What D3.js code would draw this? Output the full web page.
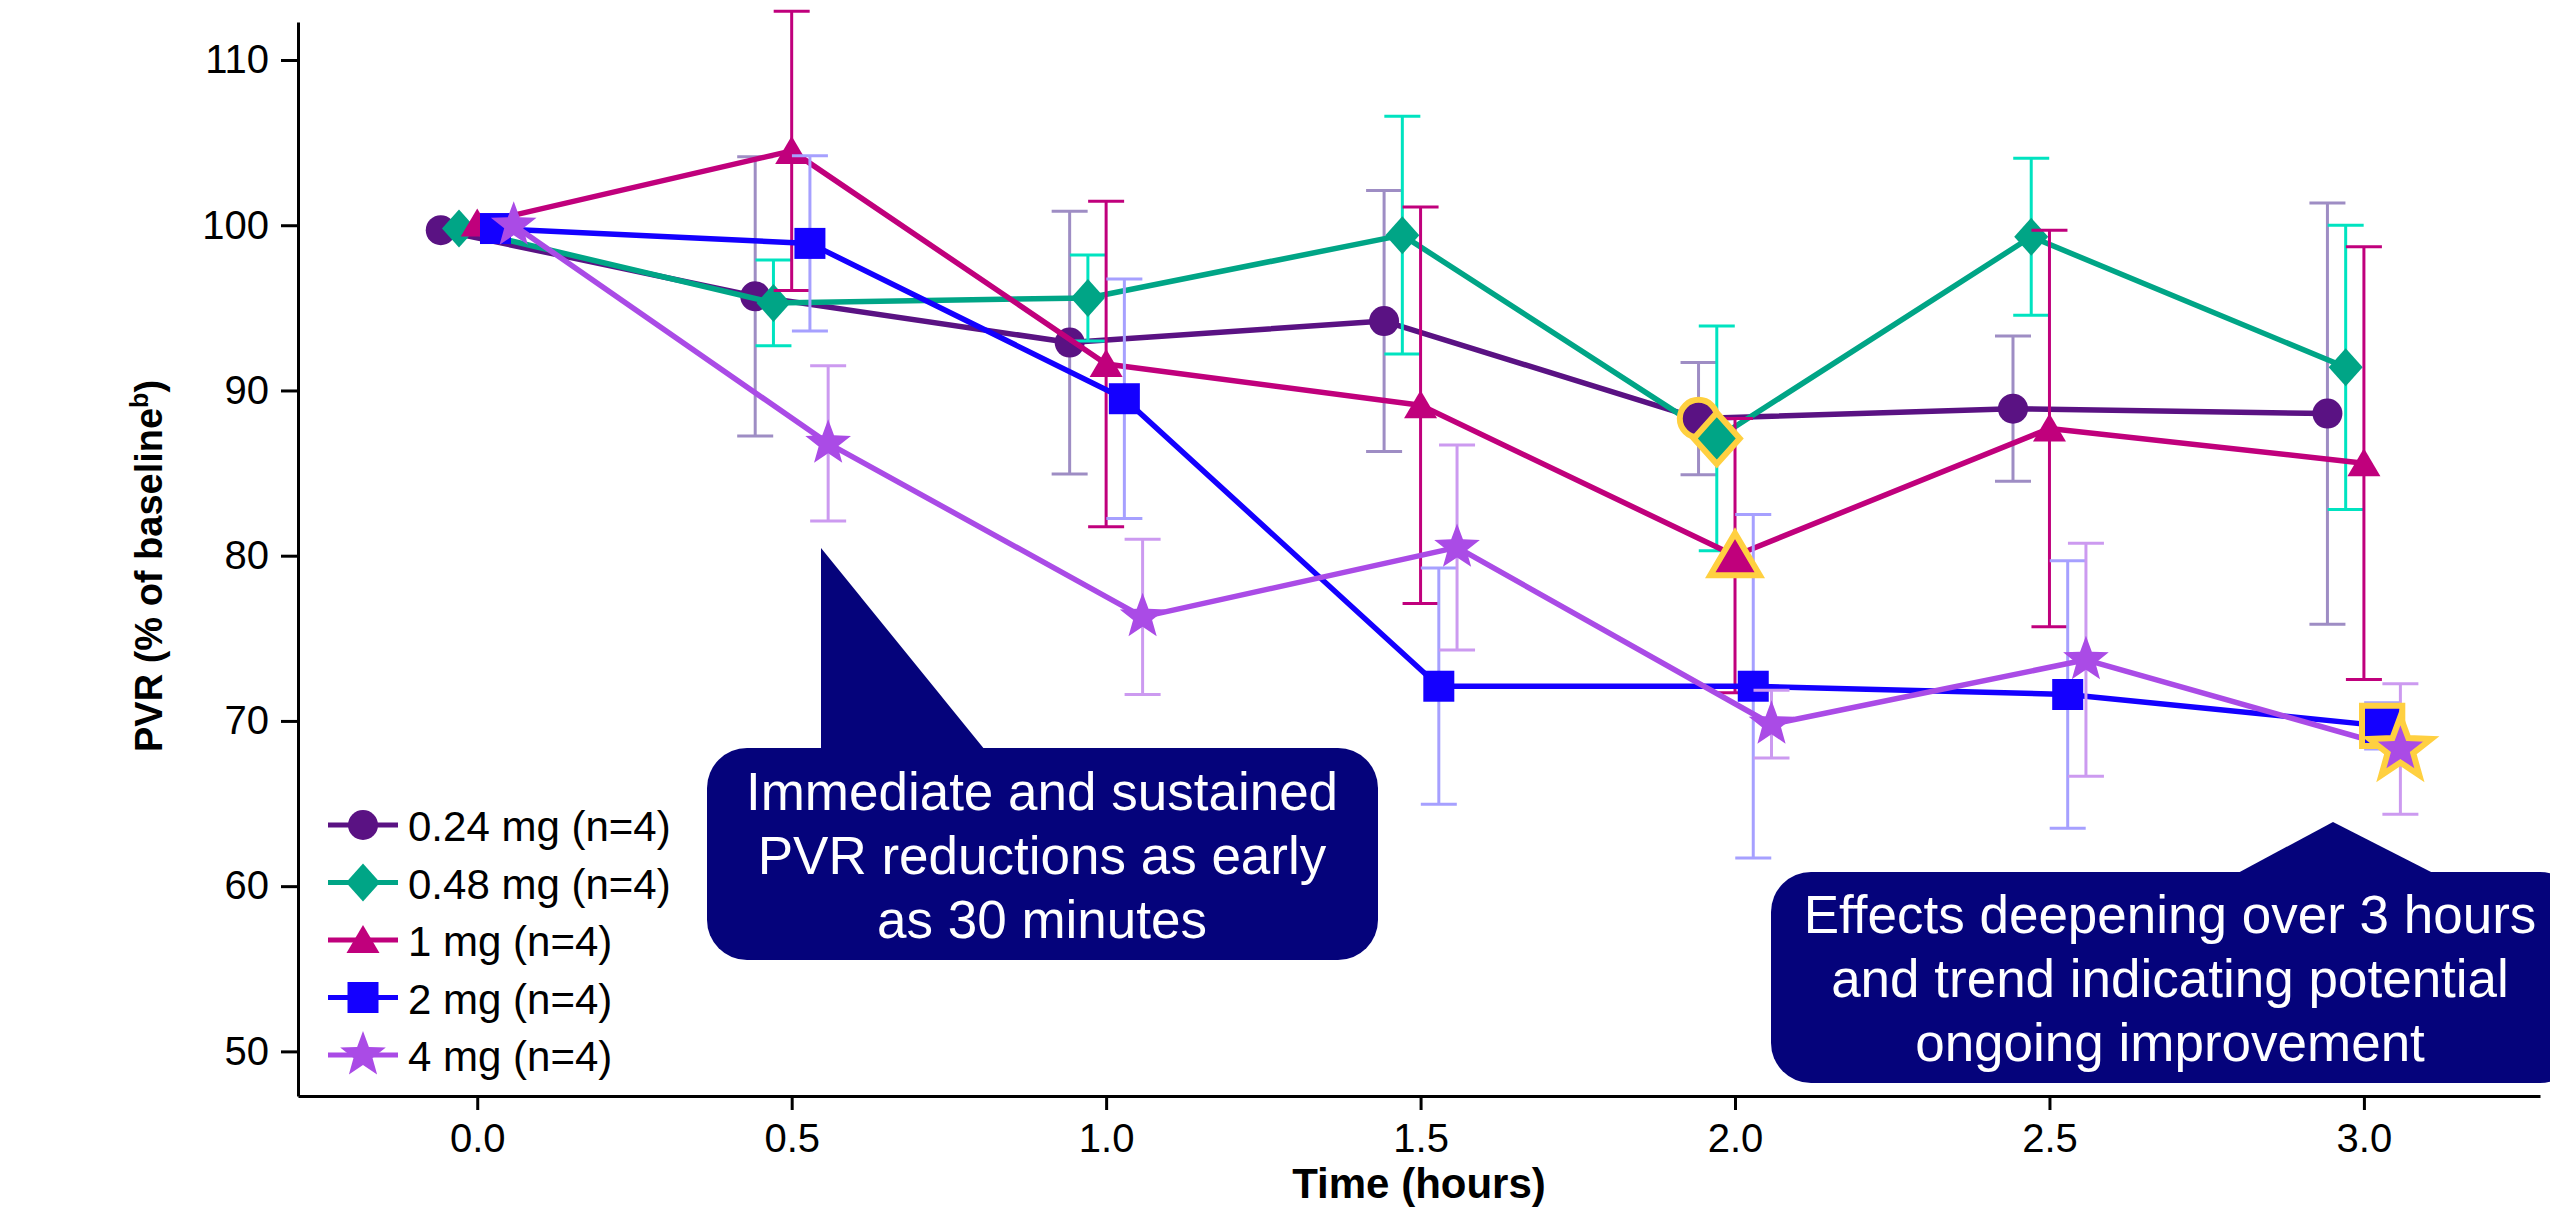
<!DOCTYPE html>
<meta charset="utf-8">
<style>
body { margin: 0; background: #fff; }
text { font-family: "Liberation Sans", Arial, sans-serif; }
.axis path, .axis line { stroke: #000; stroke-width: 3px; }
.axis text { font-size: 40px; fill: #000; }
</style>
<body>
<svg width="2550" height="1209"></svg>
<script src="https://d3js.org/d3.v7.min.js"></script>
<script>

// time points (hours) and the five dose groups
var times = [0, 0.5, 1.0, 1.5, 2.0, 2.5, 3.0];
var doseLabels = ["0.24 mg (n=4)", "0.48 mg (n=4)", "1 mg (n=4)", "2 mg (n=4)", "4 mg (n=4)"];

// PVR, % of baseline (mean) and error (+/-) per dose
var mean024 = [99.7, 95.7, 92.9, 94.2, 88.3, 88.9, 88.6];
var err024  = [0, 8.45, 7.95, 7.9, 3.4, 4.4, 12.75];
var mean048 = [99.8, 95.3, 95.6, 99.4, 87.1, 99.3, 91.4];
var err048  = [0, 2.6, 2.6, 7.2, 6.8, 4.75, 8.6];
var mean1   = [100.1, 104.5, 91.6, 89.1, 80.0, 87.7, 85.6];
var err1    = [0, 8.45, 9.85, 12.0, 8.3, 12.0, 13.1];
var mean2   = [99.8, 98.9, 89.5, 72.1, 72.1, 71.6, 69.7];
var err2    = [0, 5.3, 7.25, 7.15, 10.4, 8.1, 1.4];
var mean4   = [100.0, 86.8, 76.3, 80.5, 69.8, 73.7, 68.3];
var err4    = [0, 4.7, 4.7, 6.2, 2.05, 7.05, 3.95];

// which time point is ringed in yellow for each dose
var highlightIdx = [4, 4, 4, 6, 6];

var yTicks = [50, 60, 70, 80, 90, 100, 110];
var xTicks = [0, 0.5, 1.0, 1.5, 2.0, 2.5, 3.0];

var lineColors = ["#5a1283", "#00a586", "#c0007c", "#1400ff", "#aa4be6"];
var errColors  = ["#9e8dc4", "#00e3c0", "#c0007c", "#a6a0ff", "#cc9af0"];
var offsets    = [-0.058, -0.029, 0, 0.029, 0.058];
var shapes     = ["circle", "diamond", "triangle", "square", "star"];
var hiScale    = [1.25, 1.35, 1.5, 1.3, 1.35];
var yellow = "#ffd040";

var means = [mean024, mean048, mean1, mean2, mean4],
    errs = [err024, err048, err1, err2, err4];

var series = doseLabels.map(function(label, i) {
  return {
    label: label,
    i: i,
    points: times.map(function(t, j) {
      return {t: t + offsets[i], v: means[i][j], e: errs[i][j], hi: j === highlightIdx[i]};
    })
  };
});

var svg = d3.select("svg");

var x = d3.scaleLinear().domain([-0.285, 3.28]).range([298, 2540]);
var y = d3.scaleLinear().domain([47.3, 112.3]).range([1096, 22]);

function starPath(ro, ri) {
  var pts = [];
  for (var k = 0; k < 10; k++) {
    var r = k % 2 ? ri : ro, a = -Math.PI / 2 + k * Math.PI / 5;
    pts.push([r * Math.cos(a), r * Math.sin(a)]);
  }
  return "M" + pts.join("L") + "Z";
}

var shapePaths = {
  circle: "M15,0A15,15 0 1,1 -15,0A15,15 0 1,1 15,0Z",
  diamond: "M0,-19L17,0L0,19L-17,0Z",
  triangle: "M0,-15L16.5,13L-16.5,13Z",
  square: "M-15.5,-15.5H15.5V15.5H-15.5Z",
  star: starPath(24, 10)
};

// axes
svg.append("g")
    .attr("class", "axis")
    .attr("transform", "translate(0,1096)")
    .call(d3.axisBottom(x).tickValues(xTicks).tickFormat(d3.format(".1f"))
      .tickSize(14).tickSizeOuter(0).tickPadding(14));

svg.append("g")
    .attr("class", "axis")
    .attr("transform", "translate(298,0)")
    .call(d3.axisLeft(y).tickValues(yTicks).tickSize(17).tickSizeOuter(0).tickPadding(12));

svg.append("text")
    .attr("x", 1419)
    .attr("y", 1198)
    .attr("text-anchor", "middle")
    .attr("font-size", 42)
    .attr("font-weight", "bold")
    .text("Time (hours)");

var ylab = svg.append("text")
    .attr("transform", "translate(162,566) rotate(-90)")
    .attr("text-anchor", "middle")
    .attr("font-size", 38)
    .attr("font-weight", "bold");
ylab.append("tspan").text("PVR (% of baseline");
ylab.append("tspan").attr("font-size", 25).attr("dy", -14).text("b");
ylab.append("tspan").attr("dy", 14).text(")");

var line = d3.line().x(d => x(d.t)).y(d => y(d.v));

series.forEach(function(s) {
  var g = svg.append("g");

  var bars = g.selectAll(".err")
      .data(s.points.filter(d => d.e > 0))
      .enter().append("g")
      .attr("stroke", errColors[s.i])
      .attr("stroke-width", 3);
  bars.append("line")
      .attr("x1", d => x(d.t)).attr("x2", d => x(d.t))
      .attr("y1", d => y(d.v + d.e)).attr("y2", d => y(d.v - d.e));
  bars.append("line")
      .attr("x1", d => x(d.t) - 18).attr("x2", d => x(d.t) + 18)
      .attr("y1", d => y(d.v + d.e)).attr("y2", d => y(d.v + d.e));
  bars.append("line")
      .attr("x1", d => x(d.t) - 18).attr("x2", d => x(d.t) + 18)
      .attr("y1", d => y(d.v - d.e)).attr("y2", d => y(d.v - d.e));

  g.append("path")
      .datum(s.points)
      .attr("d", line)
      .attr("fill", "none")
      .attr("stroke", lineColors[s.i])
      .attr("stroke-width", 5.5)
      .attr("stroke-linejoin", "round");

  g.selectAll(".mark")
      .data(s.points.filter(d => !d.hi))
      .enter().append("path")
      .attr("d", shapePaths[shapes[s.i]])
      .attr("transform", d => "translate(" + x(d.t) + "," + y(d.v) + ")")
      .attr("fill", lineColors[s.i]);
});

// highlighted points go on top
series.forEach(function(s) {
  var d = s.points[highlightIdx[s.i]];
  svg.append("path")
      .attr("d", shapePaths[shapes[s.i]])
      .attr("transform", "translate(" + x(d.t) + "," + y(d.v) + ") scale(" + hiScale[s.i] + ")")
      .attr("fill", lineColors[s.i])
      .attr("stroke", yellow)
      .attr("stroke-width", 6)
      .attr("stroke-linejoin", "miter")
      .attr("vector-effect", "non-scaling-stroke");
});

// legend
var legend = svg.append("g").attr("transform", "translate(328,825)");
var rows = legend.selectAll("g")
    .data(series)
    .enter().append("g")
    .attr("transform", (d, i) => "translate(0," + (i * 57.5) + ")");
rows.append("line")
    .attr("x1", 0).attr("x2", 70)
    .attr("stroke", d => lineColors[d.i])
    .attr("stroke-width", 5);
rows.append("path")
    .attr("d", d => shapePaths[shapes[d.i]])
    .attr("transform", "translate(35,0)")
    .attr("fill", d => lineColors[d.i]);
rows.append("text")
    .attr("x", 80)
    .attr("y", 16)
    .attr("font-size", 42)
    .text(d => d.label);

// call-out boxes
var navy = "#05037b";

function callout(x0, y0, x1, y1, r, pointer, lines, cx, baseline) {
  var g = svg.append("g");
  g.append("rect")
      .attr("x", x0).attr("y", y0)
      .attr("width", x1 - x0).attr("height", y1 - y0)
      .attr("rx", r).attr("ry", r)
      .attr("fill", navy);
  g.append("path")
      .attr("d", "M" + pointer.join("L") + "Z")
      .attr("fill", navy);
  g.selectAll("text")
      .data(lines)
      .enter().append("text")
      .attr("x", cx)
      .attr("y", (d, i) => baseline + i * 64)
      .attr("text-anchor", "middle")
      .attr("font-size", 53)
      .attr("fill", "#fff")
      .text(d => d);
}

callout(707, 748, 1378, 960, 40, [[821, 750], [821, 548], [985, 750]],
  ["Immediate and sustained", "PVR reductions as early", "as 30 minutes"], 1042, 810);

callout(1771, 872, 2580, 1083, 40, [[2236, 874], [2333, 822], [2435, 874]],
  ["Effects deepening over 3 hours", "and trend indicating potential", "ongoing improvement"], 2170, 933);

</script>
</body>
